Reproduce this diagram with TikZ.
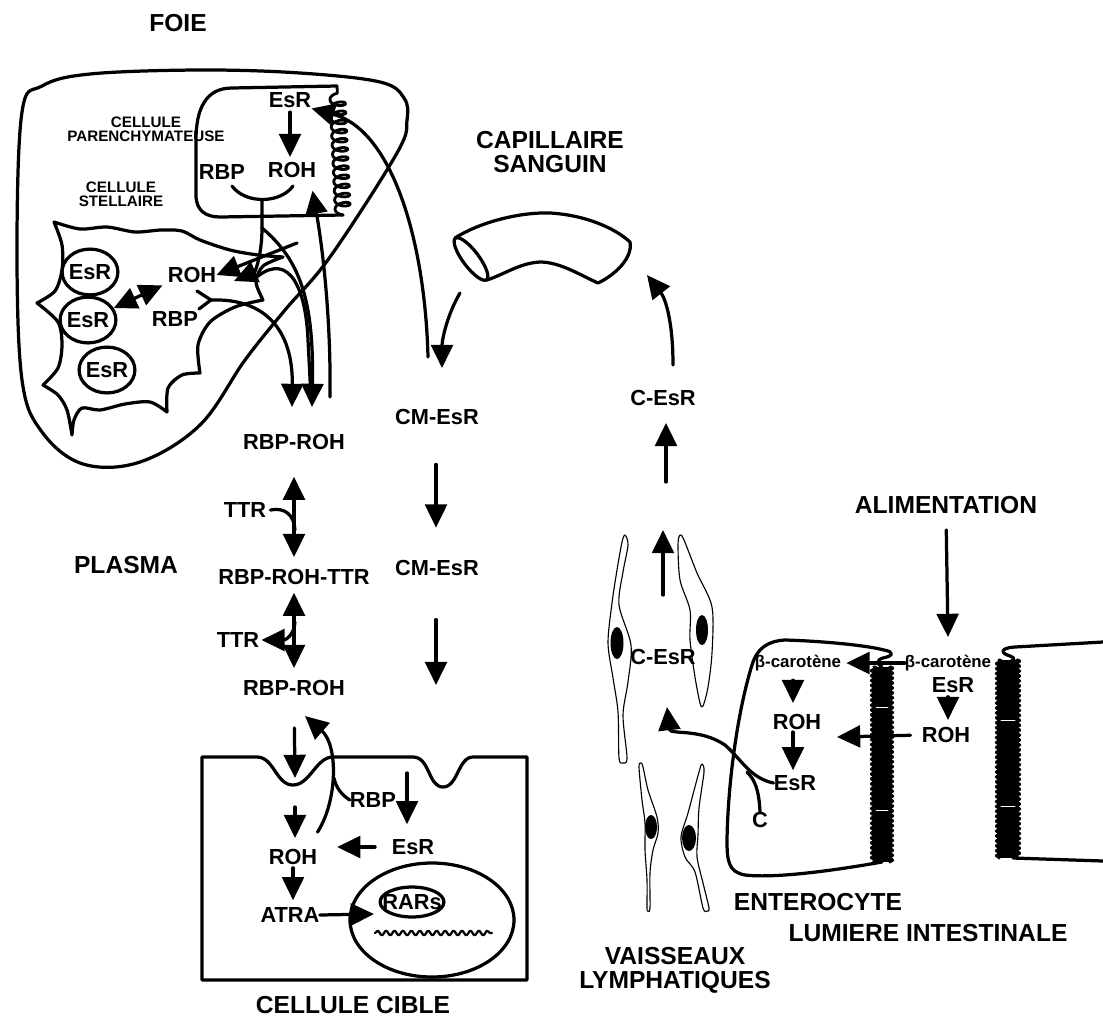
\documentclass[tikz,border=0pt]{standalone}
\usepackage{fontspec}
\setmainfont{Liberation Sans}
\usepackage{tikz}
\usetikzlibrary{arrows.meta,shapes.geometric,decorations.pathmorphing}

\newdimen\pxu \pxu=0.025cm
\tikzset{
titre/.style={font=\fontsize{17.5}{17}\selectfont\bfseries,align=center,inner sep=0pt},
lab/.style={font=\fontsize{15.5}{18}\selectfont\bfseries,inner sep=0pt},
petit/.style={font=\fontsize{10.8}{10}\selectfont\bfseries,align=center,inner sep=0pt},
beta/.style={font=\fontsize{12}{14}\selectfont\bfseries,inner sep=0pt},
trait/.style={line width=2.3pt},
fin/.style={line width=0.8pt},
bulle/.style={lab,draw,trait,fill=white,ellipse,minimum width=39.7pt,minimum height=32.6pt},
bordure/.style={line width=2.4pt,decorate,decoration={zigzag,amplitude=1.8pt,segment length=3.5pt}}
}

\begin{document}
\begin{tikzpicture}[x=0.025cm,y=-0.025cm,>={Triangle[length=16.5pt,width=15.5pt]},line cap=round,line join=round]
\useasboundingbox (0,0) rectangle (1103,1027);

%% titres
\node[titre] (foie) at (178,23) {FOIE};
\node[titre] (capillaire) at (550,152) {CAPILLAIRE\\SANGUIN};
\node[titre] (plasma) at (126,565) {PLASMA};
\node[titre] (alim) at (946,505) {ALIMENTATION};
\node[titre] (entero) at (818,902) {ENTEROCYTE};
\node[titre] (lumiere) at (928,933) {LUMIERE INTESTINALE};
\node[titre] (vaisseaux) at (675,970) {VAISSEAUX\\LYMPHATIQUES};
\node[titre] (cible) at (353,1005) {CELLULE CIBLE};

%% foie
\draw[trait] plot[smooth cycle,tension=0.6] coordinates {(22,112) (42,86) (90,74) (200,70) (300,73) (380,82) (404,98) (407,120) (397,153) (330,257) (285,310) (245,360) (200,425) (140,462) (83,464) (42,432) (22,380) (17,250)};
%% cellule parenchymateuse
\draw[trait] (337,86) -- (232,88) .. controls (205,88) and (196,110) .. (196,140) -- (196,195) .. controls (196,210) and (205,217) .. (220,217) -- (343,215);
\draw[line width=2pt,decorate,decoration={coil,amplitude=5.5pt,segment length=6.5pt,aspect=0.5}] (343,215) -- (337,86);
%% cellule stellaire
\draw[trait] plot[smooth] coordinates {(54,222) (80,229) (107,227) (135,232) (161,230) (182,231) (200,240) (230,250) (258,255) (283,257)}
 -- plot[smooth] coordinates {(283,257) (263,266) (256,282) (263,300)}
 -- plot[smooth] coordinates {(263,300) (235,307) (210,322) (198,345) (200,373)}
 -- plot[smooth] coordinates {(200,373) (182,375) (168,388) (167,412)}
 -- plot[smooth] coordinates {(167,412) (150,402) (125,404) (100,410) (82,408) (74,420) (72,435)}
 -- plot[smooth] coordinates {(72,435) (67,410) (58,395) (43,385)}
 -- plot[smooth] coordinates {(43,385) (58,368) (62,345) (58,322) (37,303)}
 -- plot[smooth] coordinates {(37,303) (55,291) (62,270) (62,245) (54,222)} -- cycle;
\node[bulle] (e1) at (90,272) {\makebox[0pt]{EsR}};
\node[bulle] (e2) at (88,320) {\makebox[0pt]{EsR}};
\node[bulle] (e3) at (107,370) {\makebox[0pt]{EsR}};

\node[petit] (parench) at (146,129) {CELLULE\\PARENCHYMATEUSE};
\node[petit] (stell) at (121,194) {CELLULE\\STELLAIRE};
\node[lab] (pEsR) at (290,100) {EsR};
\node[lab] (pROH) at (292,170) {ROH};
\node[lab] (pRBP) at (222,172) {RBP};
\node[lab] (sROH) at (192,275) {ROH};
\node[lab] (sRBP) at (175,319) {RBP};

\coordinate (jonction) at (262,228);
\coordinate (depart) at (297,243);
\coordinate (crochet) at (211,300);
\coordinate (versA) at (292,407);
\coordinate (versB) at (312,407);
\coordinate (remontee) at (330,397);
\coordinate (cmdepart) at (428,357);

\draw[trait,->,shorten <=3pt,shorten >=3.5pt] (pEsR.south) -- (pEsR.south |- pROH.north);
\draw[trait] (232,186) .. controls (245,204) and (280,204) .. (293,186) (262,200) -- (jonction);
\draw[trait,->] (jonction) .. controls (262,255) and (255,272) .. (234,281);
\draw[trait,->] (depart) -- (sROH.east);
\draw[trait] (197,291) -- (crochet) -- (199,309);
\draw[trait,->] (crochet) .. controls (265,298) and (293,330) .. (versA);
\draw[trait,->] (jonction) .. controls (300,260) and (314,300) .. (versB);
\draw[trait] (258,276) .. controls (290,252) and (306,290) .. (308,340) -- (311,398);
\draw[trait,->] (remontee) .. controls (331,320) and (323,250) .. ([xshift=-4\pxu,yshift=-9pt]pROH.south east);
\draw[trait,<->,shorten >=4pt] (e2) -- (sROH.south west);
\draw[trait,->] (cmdepart) .. controls (425,240) and (392,130) .. ([yshift=-6pt]pEsR.east);

%% capillaire
\draw[trait] (455,238) .. controls (480,222) and (520,212) .. (550,213) .. controls (585,215) and (615,228) .. (630,242) .. controls (633,258) and (615,275) .. (598,283) .. controls (580,275) and (560,262) .. (540,262) .. controls (520,263) and (505,274) .. (487,280);
\draw[trait,rotate around={-53:(471,259)}] (471,259) ellipse [x radius=26,y radius=8];
\coordinate (capG) at (460,293);
\coordinate (capD) at (647,275);
\coordinate (cmhaut) at (442,368);
\coordinate (l3) at (673,365);
\draw[trait,->] (capG) .. controls (447,315) and (442,340) .. (cmhaut);
\draw[trait,->] (l3) .. controls (673,320) and (665,298) .. (capD);

%% plasma
\node[lab] (rbprohA) at (294,442) {RBP-ROH};
\node[lab] (ttrA) at (245,510) {TTR};
\node[lab] (complex) at (294,577) {RBP-ROH-TTR};
\node[lab] (ttrB) at (238,640) {TTR};
\node[lab] (rbprohB) at (294,688) {RBP-ROH};
\node[lab] (cmA) at (437,417) {CM-EsR};
\node[lab] (cmB) at (437,568) {CM-EsR};
\coordinate (ttrdepart) at (295,622);
\coordinate (cmbas) at (436,685);

\draw[trait,<->,shorten <=19pt,shorten >=8.5pt] (rbprohA.south) -- (complex.north);
\draw[trait] ([xshift=4\pxu]ttrA.east) .. controls (285,507) and (294,515) .. (295,530);
\draw[trait,<->,shorten <=5.5pt,shorten >=8.5pt] (complex.south) -- (rbprohB.north);
\draw[trait,->] (ttrdepart) .. controls (294,636) and (285,640) .. ([xshift=2\pxu]ttrB.east);
\draw[trait,->,shorten <=28pt,shorten >=23pt] ([xshift=-1\pxu]cmA.south) -- ([xshift=-1\pxu]cmB.north);
\draw[trait,->,shorten <=31pt] ([xshift=-1\pxu]cmB.south) -- (cmbas);

%% cellule cible
\draw[trait] (202,757) -- (257,757) .. controls (274,757) and (276,785) .. (293,785) .. controls (310,785) and (316,757) .. (333,757) -- (413,757) .. controls (430,757) and (428,787) .. (443,787) .. controls (458,787) and (458,757) .. (473,757) -- (527,757) -- (527,980) -- (202,980) -- cycle;
\draw[trait] (432,920) ellipse [x radius=82,y radius=57];
\node[lab,draw,trait,ellipse,minimum width=45.4pt,minimum height=21.3pt] (rars) at (412,902) {\makebox[0pt]{RARs}};
\draw[line width=1.6pt,decorate,decoration={snake,amplitude=1.6pt,segment length=6pt}] (375,933) -- (492,933);

\node[lab] (cRBP) at (373,800) {RBP};
\node[lab] (cEsR) at (413,847) {EsR};
\node[lab] (cROH) at (293,857) {ROH};
\node[lab] (atra) at (290,915) {ATRA};
\coordinate (creux) at (295,778);
\coordinate (retour) at (305,716);
\coordinate (c1) at (407,773);
\coordinate (c2) at (295,807);
\coordinate (versrars) at (374,914);

\draw[trait,->,shorten <=22.7pt] (rbprohB.south) -- (creux);
\draw[trait,->] ([yshift=12pt]cROH.north east) .. controls (338,800) and (338,745) .. (retour);
\draw[trait] (cRBP.west) .. controls (342,795) and (336,788) .. (334,778);
\draw[trait,->,shorten >=10.6pt] (c1) -- (c1 |- cEsR.north);
\draw[trait,->,shorten <=11.7pt,shorten >=14pt] (cEsR.west) -- (cEsR.west -| cROH.east);
\draw[trait,->,shorten >=7.8pt] (c2) -- (c2 |- cROH.north);
\draw[trait,->,shorten <=2pt,shorten >=5pt] (cROH.south) -- (cROH.south |- atra.north);
\draw[trait,->] (atra.east) -- (versrars);

%% vaisseaux lymphatiques
\draw[fin] plot[smooth cycle] coordinates {(625,535) (628,545) (623,572) (619,605) (631,645) (628,682) (623,715) (627,758) (623,763) (619,758) (618,712) (613,678) (608,643) (612,603) (617,570) (622,542)};
\draw[fin] plot[smooth cycle] coordinates {(680,535) (684,540) (697,573) (712,607) (712,653) (708,687) (703,706) (700,703) (695,677) (690,640) (690,610) (680,580) (678,545)};
\draw[fin] plot[smooth cycle] coordinates {(641,763) (643,767) (648,790) (657,817) (658,833) (653,850) (650,873) (650,908) (648,911) (647,908) (647,880) (645,850) (645,823) (642,800) (639,767)};
\draw[fin] plot[smooth cycle] coordinates {(702,764) (704,772) (699,808) (698,835) (697,857) (703,883) (709,908) (707,911) (703,908) (695,872) (685,857) (681,837) (688,813) (699,772)};
\foreach \cx/\cy/\rx/\ry in {617/643/6.5/16, 702/630/6/15, 651/827/6/12, 689/838/7/13}
  \fill (\cx,\cy) ellipse [x radius=\rx,y radius=\ry];

\node[lab] (cesrL) at (663,657) {C-EsR};
\node[lab] (cesrH) at (663,398) {C-EsR};
\coordinate (l1) at (663,595);
\coordinate (l2) at (666,482);
\coordinate (versL) at (667,707);
\draw[trait,->] (l1) -- ++(0,-65);
\draw[trait,->,shorten >=12pt] (l2) -- (l2 |- cesrH.south);

%% enterocyte
\draw[trait] (882,862) .. controls (820,873) and (770,878) .. (745,875) .. controls (728,872) and (727,860) .. (727,840) .. controls (728,780) and (738,710) .. (752,665) .. controls (757,648) and (768,641) .. (785,640) .. controls (820,641) and (865,645) .. (884,650) .. controls (895,652) and (893,656) .. (883,658) .. controls (876,660) and (877,664) .. (882,667);
\draw[trait] (1103,642) -- (1015,647) .. controls (1000,648) and (1000,653) .. (1010,656) .. controls (1018,659) and (1012,662) .. (1006,662);
\draw[trait] (1013,858) -- (1103,861);
%% bordures en brosse
\fill (874,667) rectangle (890,862);
\draw[bordure] (874,667) -- (874,862);
\draw[bordure] (890,667) -- (890,862);
\fill (999,660) rectangle (1017,858);
\draw[bordure] (999,660) -- (999,858);
\draw[bordure] (1017,660) -- (1017,858);
\draw[white,line width=0.6pt] (876,707) -- (888,707) (876,810) -- (888,810) (1001,720) -- (1015,720) (1001,806) -- (1015,806);

\node[beta] (betaIn) at (798,663) {β-carotène};
\node[beta] (betaOut) at (948,663) {β-carotène};
\node[lab] (esrOut) at (953,685) {EsR};
\node[lab] (rohOut) at (946,735) {ROH};
\node[lab] (rohIn) at (797,722) {ROH};
\node[lab] (esrIn) at (795,783) {EsR};
\node[lab] (cLab) at (760,820) {C};
\coordinate (versbeta) at (948,637);
\coordinate (versroh) at (837,737);

\draw[trait,->,shorten <=11.3pt] (alim.south) -- (versbeta);
\draw[trait,->,shorten >=3.5pt] (betaOut.west) -- (betaIn.east);
\draw[trait,->,shorten <=6.4pt,shorten >=7.8pt] ([xshift=-5\pxu]betaIn.south) -- ([xshift=-5\pxu]betaIn.south |- rohIn.north);
\draw[trait,->,shorten <=1.4pt,shorten >=3.5pt] ([xshift=-4\pxu]rohIn.south) -- ([xshift=-4\pxu]rohIn.south |- esrIn.north);
\draw[trait,->,shorten <=2.8pt,shorten >=5pt] ([xshift=-5\pxu]esrOut.south) -- ([xshift=-5\pxu]esrOut.south |- rohOut.north);
\draw[trait,->,shorten <=7.8pt] (rohOut.west) -- (versroh);
\draw[trait,->] (esrIn.west) .. controls (750,778) and (742,760) .. (725,745) .. controls (700,728) and (670,735) .. (versL);
\draw[trait] (cLab.north) .. controls (759,790) and (755,780) .. (747,772);
\end{tikzpicture}
\end{document}
